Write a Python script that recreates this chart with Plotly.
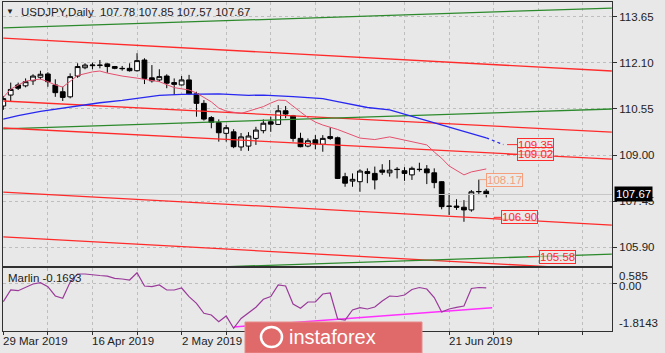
import plotly.graph_objects as go

# ---------------- data ----------------
tick_bars = [0, 12, 24, 60]
tick_labels = ["29 Mar 2019", "16 Apr 2019", "2 May 2019", "21 Jun 2019"]

opens = [110.65, 111.02, 111.36, 111.33, 111.50, 111.62, 111.73, 111.36, 111.13, 110.96,
         111.66, 111.94, 112.01, 112.03, 112.07, 111.98, 111.92, 111.92, 111.84, 112.20,
         111.60, 111.53, 111.66, 111.44, 111.36, 111.53, 111.06, 110.74, 110.26, 110.09,
         109.73, 109.78, 109.27, 109.30, 109.56, 109.82, 110.12, 110.03, 110.49, 110.32,
         109.56, 109.30, 109.51, 109.36, 109.62, 109.58, 108.27, 108.12, 108.10, 108.44,
         108.38, 108.49, 108.40, 108.52, 108.47, 108.33, 108.52, 108.53, 108.40, 108.10,
         107.28, 107.28, 107.24, 107.15, 107.76, 107.78]
highs = [110.99, 111.44, 111.44, 111.58, 111.72, 111.84, 111.79, 111.55, 111.30, 111.75,
         112.09, 112.09, 112.11, 112.20, 112.09, 112.00, 112.00, 112.09, 112.43, 112.26,
         112.03, 111.89, 111.72, 111.58, 111.66, 111.70, 111.13, 110.85, 110.31, 110.20,
         110.01, 109.87, 109.74, 109.77, 109.95, 110.20, 110.29, 110.68, 110.65, 110.35,
         109.75, 109.56, 109.67, 109.67, 109.93, 109.62, 108.40, 108.38, 108.52, 108.55,
         108.61, 108.69, 108.83, 108.59, 108.59, 108.61, 108.74, 108.66, 108.55, 108.12,
         107.71, 107.51, 107.48, 107.82, 108.17, 107.85]
lows = [110.52, 110.80, 111.19, 111.28, 111.36, 111.55, 111.30, 110.96, 110.82, 110.91,
        111.60, 111.89, 111.89, 111.92, 111.77, 111.89, 111.84, 111.81, 111.81, 111.39,
        111.44, 111.47, 111.25, 111.02, 111.34, 111.02, 110.29, 110.16, 109.90, 109.45,
        109.45, 109.23, 109.14, 109.14, 109.34, 109.73, 109.78, 110.01, 110.24, 109.45,
        109.26, 109.26, 109.19, 109.11, 109.51, 108.19, 107.93, 107.93, 107.76, 108.05,
        107.84, 108.33, 108.27, 108.21, 108.13, 108.16, 108.44, 108.02, 107.88, 107.17,
        106.98, 107.15, 106.75, 107.09, 107.65, 107.57]
closes = [110.90, 111.21, 111.25, 111.47, 111.66, 111.72, 111.47, 111.10, 110.94, 111.64,
          111.98, 112.03, 112.03, 112.02, 111.98, 111.92, 111.91, 111.84, 112.18, 111.58,
          111.50, 111.64, 111.42, 111.38, 111.53, 111.06, 110.74, 110.21, 110.10, 109.75,
          109.92, 109.28, 109.61, 109.64, 109.84, 110.07, 110.04, 110.49, 110.38, 109.56,
          109.28, 109.48, 109.37, 109.56, 109.56, 108.21, 108.05, 108.18, 108.46, 108.38,
          108.16, 108.42, 108.49, 108.51, 108.38, 108.55, 108.51, 108.40, 108.07, 107.26,
          107.27, 107.24, 107.15, 107.76, 107.77, 107.67]
bars = list(range(len(opens)))

fast_ma_bars = [0, 1, 3, 5, 6, 7, 8, 9, 10, 12, 13, 14, 16, 18, 21, 23, 25, 26, 28, 29, 30,
                32, 33, 35, 36, 37, 38, 39, 40, 41, 42, 43, 45, 48, 50, 52, 54, 57, 58, 59,
                60, 62, 63, 65]
fast_ma_vals = [110.94, 111.22, 111.49, 111.56, 111.47, 111.36, 111.29, 111.49, 111.68, 111.80,
                111.83, 111.76, 111.66, 111.59, 111.47, 111.27, 111.19, 111.09, 110.79, 110.58,
                110.48, 110.40, 110.47, 110.63, 110.75, 110.85, 110.84, 110.63, 110.45, 110.26,
                110.11, 110.01, 109.86, 109.57, 109.52, 109.61, 109.50, 109.34, 109.10, 108.89,
                108.63, 108.33, 108.43, 108.53]

slow_ma_bars = [0, 2, 5, 8, 10, 13, 16, 18, 21, 24, 27, 29, 33, 35, 39, 43, 45, 49, 52, 55,
                57, 60, 62, 63, 65]
slow_ma_vals = [110.21, 110.33, 110.47, 110.58, 110.65, 110.76, 110.84, 110.90, 111.01, 111.04,
                111.06, 111.06, 111.01, 111.02, 110.97, 110.90, 110.80, 110.60, 110.52, 110.30,
                110.15, 109.94, 109.79, 109.72, 109.58]
slow_proj_bars = [65, 67.3]
slow_proj_vals = [109.58, 109.35]

marlin_vals = [-0.698, -0.253, -0.279, -0.150, -0.024, 0.025, -0.127, -0.481, -0.569, 0.052,
               0.356, 0.356, 0.318, 0.299, 0.277, 0.193, 0.166, 0.128, 0.406, -0.100,
               -0.127, -0.062, -0.253, -0.253, -0.177, -0.508, -0.759, -1.140, -1.205, -1.460,
               -1.243, -1.711, -1.338, -1.140, -0.908, -0.607, -0.500, -0.062, -0.100, -0.786,
               -0.950, -0.710, -0.710, -0.405, -0.367, -1.357, -1.395, -1.014, -0.927, -0.976,
               -0.900, -0.672, -0.481, -0.500, -0.443, -0.234, -0.158, -0.215, -0.538, -1.091,
               -0.976, -0.912, -0.862, -0.196, -0.158, -0.1693]
marlin_trend_bars = [31, 65.8]
marlin_trend_vals = [-1.662, -0.927]

# channel / trend lines: (bar0, price0, bar1, price1, kind)
trend_lines = [
    (0, 113.28, 81.9, 113.95, "green"),
    (0, 112.94, 81.9, 111.83, "red"),
    (0, 110.82, 81.9, 109.77, "red"),
    (0, 109.88, 81.9, 110.55, "green"),
    (0, 109.91, 81.9, 108.86, "red"),
    (0, 107.75, 81.9, 106.64, "red"),
    (0, 106.24, 81.9, 105.12, "red"),
    (0, 104.99, 81.9, 105.66, "green"),
]

# price labels: (value, anchor bar, kind)
price_labels = [
    (109.35, 67.8, "red"),
    (109.02, 67.8, "red"),
    (108.17, 64, "orange"),
    (106.90, 66, "red"),
    (105.58, 70.5, "red"),
]
label_offsets = [28, 28, 26, 26, 30]

price_ticks = [105.90, 107.45, 109.00, 110.55, 112.10, 113.65]
marlin_ticks = [0.585, 0.00, -1.8143]
marlin_tick_text = ["0.585", "0.00", "-1.8143"]
last_price = 107.67
title_text = "USDJPY,Daily  107.78 107.85 107.57 107.67"
marlin_label = "Marlin -0.1693"

# ---------------- style ----------------
BG = "#E8E8E8"
GRID = "#BEBEBE"
AX = "#303030"
RED = "#FF2A2A"
GREEN = "#2C8A2C"
ORANGE = "#F4A07C"
FONT = "Liberation Sans, Arial, sans-serif"
FS = 11.5

W, H = 665, 353
ML, MR, MT, MB = 3, 53, 2, 22
PW, PH = W - ML - MR, H - MT - MB


def px_x(px):
    return (px - ML) / PW


def px_y(py):
    return (H - MB - py) / PH


X0 = -0.04
X1 = X0 + PW / 7.43
main_dom = [px_y(266), 1]
ind_dom = [0, px_y(268)]

fig = go.Figure()

fig.add_trace(go.Candlestick(
    x=bars, open=opens, high=highs, low=lows, close=closes,
    increasing=dict(line=dict(color="black", width=1), fillcolor="white"),
    decreasing=dict(line=dict(color="black", width=1), fillcolor="black"),
    whiskerwidth=0, showlegend=False, hoverinfo="skip",
    xaxis="x", yaxis="y"))

# current price line
fig.add_trace(go.Scatter(x=[X0, X1], y=[last_price, last_price], mode="lines",
                         line=dict(color="#C6C6C6", width=1), showlegend=False,
                         hoverinfo="skip", xaxis="x", yaxis="y"))

for b0, p0, b1, p1, kind in trend_lines:
    fig.add_trace(go.Scatter(x=[b0, b1], y=[p0, p1], mode="lines",
                             line=dict(color=RED if kind == "red" else GREEN, width=1.3),
                             showlegend=False, hoverinfo="skip", xaxis="x", yaxis="y"))

fig.add_trace(go.Scatter(x=slow_ma_bars, y=slow_ma_vals, mode="lines",
                         line=dict(color="#2828F0", width=1.3), showlegend=False,
                         hoverinfo="skip", xaxis="x", yaxis="y"))
fig.add_trace(go.Scatter(x=slow_proj_bars, y=slow_proj_vals, mode="lines",
                         line=dict(color="#2828F0", width=1.3, dash="3px,3px"),
                         showlegend=False, hoverinfo="skip", xaxis="x", yaxis="y"))
fig.add_trace(go.Scatter(x=fast_ma_bars, y=fast_ma_vals, mode="lines",
                         line=dict(color="#E5506E", width=1), showlegend=False,
                         hoverinfo="skip", xaxis="x", yaxis="y"))

# indicator
fig.add_trace(go.Scatter(x=marlin_trend_bars, y=marlin_trend_vals, mode="lines",
                         line=dict(color="#FF30FF", width=1.5), showlegend=False,
                         hoverinfo="skip", xaxis="x2", yaxis="y2"))
fig.add_trace(go.Scatter(x=bars, y=marlin_vals, mode="lines",
                         line=dict(color="#9A3A9A", width=1.2), showlegend=False,
                         hoverinfo="skip", xaxis="x2", yaxis="y2"))

grid_bars = list(range(0, 84, 6))
axis_common = dict(showline=True, mirror=True, linecolor=AX, linewidth=1, zeroline=False)

fig.update_layout(
    width=W, height=H, margin=dict(l=ML, r=MR, t=MT, b=MB),
    paper_bgcolor=BG, plot_bgcolor=BG,
    boxgap=0.2, boxgroupgap=0.2,
    font=dict(family=FONT, size=FS, color="#222"),
    xaxis=dict(domain=[0, 1], range=[X0, X1], anchor="y", tickvals=grid_bars,
               showticklabels=False, ticks="", showgrid=True, gridcolor=GRID,
               griddash="3px,3px", rangeslider=dict(visible=False), **axis_common),
    xaxis2=dict(domain=[0, 1], range=[X0, X1], anchor="y2", matches="x", tickvals=grid_bars,
                showticklabels=False, ticks="outside", ticklen=3, tickcolor=AX,
                showgrid=True, gridcolor=GRID, griddash="3px,3px", **axis_common),
    yaxis=dict(domain=main_dom, range=[105.26, 114.155], side="right",
               tickvals=price_ticks, ticktext=["%.2f" % v for v in price_ticks],
               ticks="outside", ticklen=4, tickcolor=AX,
               tickfont=dict(family=FONT, size=FS, color="#222"),
               showgrid=True, gridcolor=GRID, griddash="3px,3px", anchor="x", **axis_common),
    yaxis2=dict(domain=ind_dom, range=[-1.8143, 0.585], side="right",
                tickvals=[0], showticklabels=False, ticks="outside", ticklen=4, tickcolor=AX,
                showgrid=True, gridcolor=GRID, griddash="3px,3px", anchor="x2", **axis_common),
)

ann = []
# title
ann.append(dict(xref="paper", yref="paper", x=px_x(10), y=px_y(12), text="▼",
                showarrow=False, font=dict(size=8, color="#222"), xanchor="center", yanchor="middle"))
ann.append(dict(xref="paper", yref="paper", x=px_x(19), y=px_y(12), text=title_text,
                showarrow=False, font=dict(size=FS, color="#222"), xanchor="left", yanchor="middle"))
# indicator label
ann.append(dict(xref="paper", yref="paper", x=px_x(6), y=px_y(278), text=marlin_label,
                showarrow=False, font=dict(size=FS, color="#222"), xanchor="left", yanchor="middle"))
# indicator axis labels
for txt, py in zip(marlin_tick_text, [275.7, 286, 323]):
    ann.append(dict(xref="paper", yref="paper", x=1, xshift=5, y=px_y(py), text=txt,
                    showarrow=False, font=dict(size=FS, color="#222"),
                    xanchor="left", yanchor="middle"))
# date labels
for b, t in zip(tick_bars, tick_labels):
    ann.append(dict(xref="x", yref="paper", x=b, xshift=-2, y=px_y(341), text=t,
                    showarrow=False, font=dict(size=FS, color="#222"),
                    xanchor="left", yanchor="middle"))
# price labels
for (v, b, kind), off in zip(price_labels, label_offsets):
    col = RED if kind == "red" else ORANGE
    ann.append(dict(xref="x", yref="y", x=b, y=v, text="%.2f" % v, showarrow=True,
                    arrowhead=0, arrowwidth=1, arrowcolor=col, ax=off, ay=0,
                    font=dict(size=FS, color=col), bordercolor=col, borderwidth=1,
                    borderpad=0, bgcolor="rgba(235,235,235,0.6)"))
# current price box
ann.append(dict(xref="paper", yref="y", x=1, xshift=2, y=last_price, text="%.2f" % last_price,
                showarrow=False, font=dict(size=FS, color="white"), bgcolor="black",
                borderpad=1, xanchor="left", yanchor="middle"))
# watermark text
ann.append(dict(xref="paper", yref="paper", x=px_x(332), y=px_y(337), text="instaforex",
                showarrow=False, font=dict(size=20, color="white", family=FONT),
                xanchor="center", yanchor="middle"))

shapes = [
    dict(type="rect", xref="paper", yref="paper", x0=px_x(245), x1=px_x(422),
         y0=px_y(353), y1=px_y(322), fillcolor="#E06A6A",
         line=dict(color="#E88A8A", width=1), layer="above"),
    dict(type="circle", xref="paper", yref="paper", x0=px_x(261), x1=px_x(282),
         y0=px_y(347), y1=px_y(327), line=dict(color="white", width=2.5), layer="above"),
]

fig.update_layout(annotations=ann, shapes=shapes)

fig.write_html("out.html")
